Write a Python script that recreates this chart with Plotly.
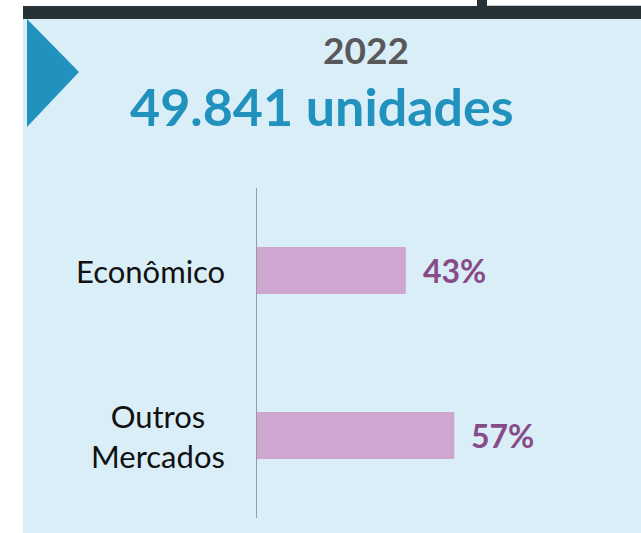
import plotly.graph_objects as go

# ---- data ----
categories = ["Econômico", "Outros<br>Mercados"]
values = [43, 57]
value_labels = ["43%", "57%"]
year_title = "2022"
total_title = "49.841 unidades"

# ---- geometry (pixels) ----
W, H = 641, 533
PX0, PX1 = 257, 603      # plot area x
PY0, PY1 = 188, 518      # plot area y (top, bottom)
XMAX = 100


def fx(px):
    return (px - PX0) / (PX1 - PX0)


def fy(py):
    return (PY1 - py) / (PY1 - PY0)


PANEL = "#D9EEF7"
DARK = "#263238"
BLUE = "#2191BE"
BAR = "#CFA6CF"
PURPLE = "#874C87"

fig = go.Figure()
fig.add_trace(go.Bar(
    y=categories, x=values, orientation="h",
    marker=dict(color=BAR, line=dict(width=0)),
    width=0.285, hoverinfo="skip",
))

shapes = [
    # panel
    dict(type="rect", xref="paper", yref="paper", x0=fx(23), x1=fx(641), y0=fy(533), y1=fy(19),
         fillcolor=PANEL, line=dict(width=0), layer="below"),
    # top dark bar
    dict(type="rect", xref="paper", yref="paper", x0=fx(23), x1=fx(641), y0=fy(19), y1=fy(6),
         fillcolor=DARK, line=dict(width=0), layer="below"),
    # tab
    dict(type="rect", xref="paper", yref="paper", x0=fx(477), x1=fx(487), y0=fy(7), y1=fy(0),
         fillcolor=DARK, line=dict(width=0), layer="below"),
    dict(type="line", xref="paper", yref="paper", x0=fx(487), x1=fx(641), y0=fy(5.5), y1=fy(5.5),
         line=dict(color="#C8C8C8", width=1.2), layer="below"),
    # triangle
    dict(type="path", xref="paper", yref="paper",
         path=f"M {fx(27)},{fy(19)} L {fx(79)},{fy(72)} L {fx(27)},{fy(127)} Z",
         fillcolor=BLUE, line=dict(width=0), layer="below"),
]

annotations = [
    dict(text=f"<b>{year_title}</b>", xref="paper", yref="paper", x=fx(366), y=fy(49),
         xanchor="center", yanchor="middle", showarrow=False,
         font=dict(family="Lato", size=37, color="#58585A")),
    dict(text=f"<b>{total_title}</b>", xref="paper", yref="paper", x=fx(322), y=fy(106),
         xanchor="center", yanchor="middle", showarrow=False,
         font=dict(family="Lato", size=52, color=BLUE)),
]
for c, v, lab in zip(categories, values, value_labels):
    annotations.append(dict(text=f"<b>{lab}</b>", x=v, y=c, xref="x", yref="y",
                            xanchor="left", yanchor="middle", xshift=15, showarrow=False,
                            font=dict(family="Lato", size=32, color=PURPLE)))
    annotations.append(dict(text=c, x=0, y=c, xref="x", yref="y",
                            xanchor="right", yanchor="middle", xshift=-30, align="center",
                            showarrow=False,
                            font=dict(family="Lato", size=31, color="#111111")))

fig.update_layout(
    width=W, height=H,
    margin=dict(l=PX0, r=W - PX1, t=PY0, b=H - PY1, pad=0),
    paper_bgcolor="white", plot_bgcolor="rgba(0,0,0,0)",
    showlegend=False,
    shapes=shapes, annotations=annotations,
    xaxis=dict(range=[0, XMAX], visible=False, fixedrange=True),
    yaxis=dict(range=[1.5, -0.5], autorange=False, showticklabels=False, ticks="",
               showgrid=False, zeroline=False, showline=True, linecolor="#9A9A9A",
               linewidth=1.2, fixedrange=True),
)

fig.write_html("out.html", config={"displayModeBar": False},
               post_script="document.body.style.margin='0';document.body.style.padding='0';")
